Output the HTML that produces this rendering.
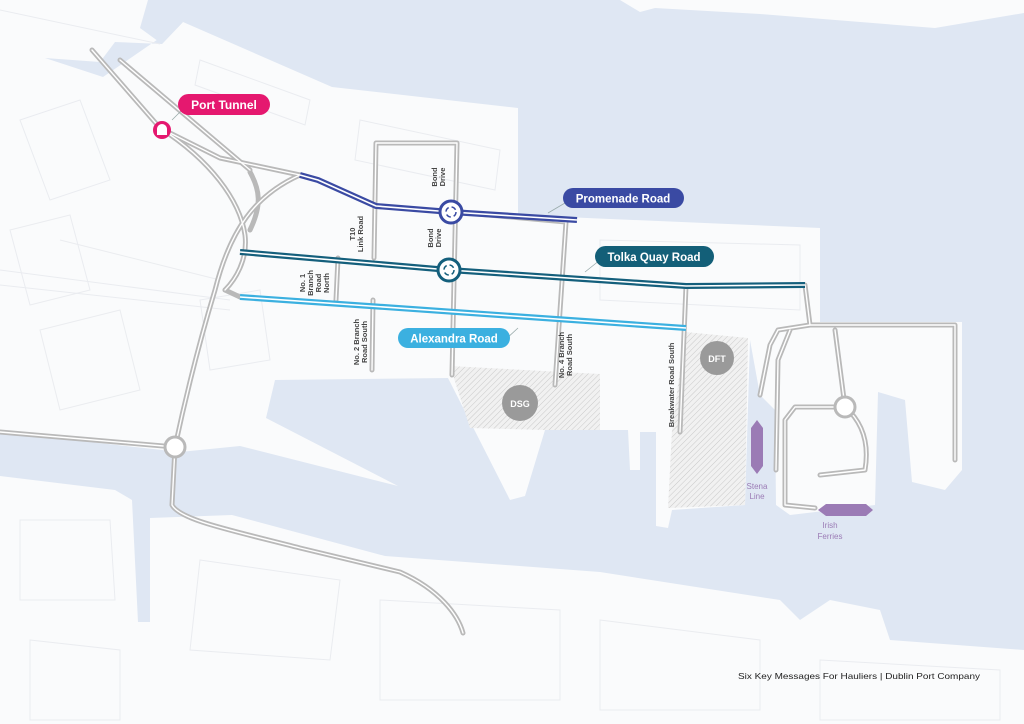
<!DOCTYPE html>
<html><head><meta charset="utf-8"><style>
html,body{margin:0;padding:0;background:#fff;}
svg{display:block;}
text{font-family:"Liberation Sans",sans-serif;}
</style></head><body>
<svg width="1024" height="724" viewBox="0 0 1024 724" xmlns="http://www.w3.org/2000/svg">
<defs>
<pattern id="hatch" width="4" height="4" patternUnits="userSpaceOnUse" patternTransform="rotate(45)">
<rect width="4" height="4" fill="#f1f1f1"/><line x1="0" y1="0" x2="0" y2="4" stroke="#c9c9c9" stroke-width="1"/>
</pattern>
</defs>
<rect x="0" y="0" width="1024" height="724" fill="#dfe7f3"/>
<!-- north land west part (left of peninsula) -->
<path fill="#fafbfc" d="M0,0 L148,0 L183,22 L332,87 L518,108 L518,215 L820,228 L820,322 L962,322 L962,470 L945,490 L912,482 L905,400 L878,392 L875,505 L790,515 L776,505 L775,410 L760,395 L750,340 L745,505 L672,510 L668,528 L656,526 L656,432 L640,432 L640,470 L630,470 L628,430 L545,430 L525,496 L510,500 L448,378 L275,380 L266,418 L398,486 L240,446 L180,452 L0,432 Z"/>
<!-- NW water channel -->
<path fill="#dfe7f3" d="M45,58 L100,62 L115,42 L162,44 L183,22 L103,77 Z"/>
<path fill="#dfe7f3" d="M148,0 L165,0 L183,22 L162,44 L140,28 Z"/>
<!-- top right land strip -->
<path fill="#fafbfc" d="M620,0 L1024,0 L1024,13 L935,28 L760,14 L655,8 L640,12 Z"/>
<!-- south land -->
<path fill="#fafbfc" d="M0,476 L115,490 L132,500 L138,622 L150,622 L150,518 L232,515 L385,556 L600,572 L780,600 L800,620 L830,600 L880,610 L890,640 L1024,650 L1024,724 L0,724 Z"/>
<!-- faint building lines -->
<g stroke="#eaecf0" stroke-width="1" fill="none">
<path d="M20,120 L80,100 L110,180 L50,200Z M10,230 L70,215 L90,290 L30,305Z M40,330 L120,310 L140,390 L60,410Z M200,300 L260,290 L270,360 L210,370Z"/>
<path d="M200,60 L310,100 L305,125 L195,85Z M360,120 L500,150 L495,190 L355,160Z M600,240 L800,245 L800,310 L600,300Z"/>
<path d="M20,520 L110,520 L115,600 L20,600Z M200,560 L340,580 L330,660 L190,650Z M380,600 L560,610 L560,700 L380,700Z M600,620 L760,640 L760,710 L600,710Z M820,660 L1000,670 L1000,720 L820,720Z M30,640 L120,650 L120,720 L30,720Z"/>
<path d="M0,270 L230,300 M0,285 L230,310 M60,240 L220,280 M0,10 L160,44"/>
</g>
<!-- hatched areas -->
<polygon fill="url(#hatch)" points="450,366 600,374 600,430 545,430 470,428"/>
<polygon fill="url(#hatch)" points="685,332 748,338 745,505 668,508 672,430"/>
<!-- gray roads -->
<g fill="none" stroke-linecap="round" stroke-linejoin="round">
<g stroke="#b9b9b9" stroke-width="5">
<path d="M92,50 L160,128 L220,158 L300,175"/>
<path d="M300,175 C255,195 230,230 215,290 C200,340 185,400 175,447 L172,505 C180,520 230,530 300,548 L400,572 C440,590 458,615 463,633"/>
<path d="M160,128 C210,160 240,200 245,235 C248,260 235,280 225,290"/>
<path d="M0,432 L175,447"/>
<path d="M225,290 L240,297"/>
<path d="M374,258 L376,143 L457,143 L452,375"/>
<path d="M373,300 L372,370"/>
<path d="M338,258 L336,300"/>
<path d="M456,212 L566,222 L555,385"/>
<path d="M686,286 L680,432"/>
<path d="M805,285 L810,325 L955,325 L955,460"/>
<path d="M810,325 L778,330 L770,345 L760,395"/>
<path d="M790,330 L778,360 L776,470"/>
<path d="M835,330 L845,407 C860,420 870,440 865,470 L820,475"/>
<path d="M845,407 L795,407 L785,420 L785,505 L815,508"/>
<path d="M120,60 L250,170"/>
<path d="M250,172 C260,190 262,205 250,230"/>
</g>
<g stroke="#fff" stroke-width="1.4">
<path d="M92,50 L160,128 L220,158 L300,175"/>
<path d="M300,175 C255,195 230,230 215,290 C200,340 185,400 175,447 L172,505 C180,520 230,530 300,548 L400,572 C440,590 458,615 463,633"/>
<path d="M160,128 C210,160 240,200 245,235 C248,260 235,280 225,290"/>
<path d="M0,432 L175,447"/>
<path d="M374,258 L376,143 L457,143 L452,375"/>
<path d="M373,300 L372,370"/>
<path d="M338,258 L336,300"/>
<path d="M456,212 L566,222 L555,385"/>
<path d="M686,286 L680,432"/>
<path d="M805,285 L810,325 L955,325 L955,460"/>
<path d="M810,325 L778,330 L770,345 L760,395"/>
<path d="M790,330 L778,360 L776,470"/>
<path d="M835,330 L845,407 C860,420 870,440 865,470 L820,475"/>
<path d="M845,407 L795,407 L785,420 L785,505 L815,508"/>
<path d="M120,60 L250,170"/>
</g>
</g>
<!-- gray roundabouts -->
<circle cx="175" cy="447" r="10" fill="#fff" stroke="#b9b9b9" stroke-width="3"/>
<circle cx="845" cy="407" r="10" fill="#fff" stroke="#b9b9b9" stroke-width="3"/>
<!-- coloured roads -->
<g fill="none" stroke-linejoin="round">
<path d="M300,175 L318,180 L376,206 L451,212 L577,220" stroke="#3a4aa3" stroke-width="6"/>
<path d="M300,175 L318,180 L376,206 L451,212 L577,220" stroke="#fff" stroke-width="1.6"/>
<path d="M240,252 L449,270 L686,286 L805,285" stroke="#145f7c" stroke-width="6"/>
<path d="M240,252 L449,270 L686,286 L805,285" stroke="#fff" stroke-width="1.6"/>
<path d="M240,297 L686,328" stroke="#3bb0e0" stroke-width="6"/>
<path d="M240,297 L686,328" stroke="#fff" stroke-width="1.6"/>
</g>
<!-- coloured roundabouts -->
<circle cx="451" cy="212" r="11" fill="#fff" stroke="#3a4aa3" stroke-width="3"/>
<circle cx="451" cy="212" r="5" fill="none" stroke="#3a4aa3" stroke-width="1.5" stroke-dasharray="5 3"/>
<circle cx="449" cy="270" r="11" fill="#fff" stroke="#145f7c" stroke-width="3"/>
<circle cx="449" cy="270" r="5" fill="none" stroke="#145f7c" stroke-width="1.5" stroke-dasharray="5 3"/>
<!-- leader lines -->
<g stroke="#9aa" stroke-width="0.8">
<line x1="548" y1="213" x2="565" y2="203"/>
<line x1="585" y1="272" x2="600" y2="260"/>
<line x1="505" y1="340" x2="518" y2="328"/>
<line x1="172" y1="120" x2="184" y2="108"/>
</g>
<!-- port tunnel icon -->
<circle cx="162" cy="130" r="9" fill="#e5186f"/>
<path d="M157,135 L157,129 A5,5 0 0 1 167,129 L167,135Z" fill="#fff"/>
<!-- pills -->
<rect x="178" y="94" width="92" height="21" rx="10.5" fill="#e5186f"/>
<text x="224" y="109" fill="#fff" font-size="12" font-weight="bold" text-anchor="middle">Port Tunnel</text>
<rect x="563" y="188" width="121" height="20" rx="10" fill="#3a4aa3"/>
<text x="623" y="202.5" fill="#fff" font-size="11.5" font-weight="bold" text-anchor="middle">Promenade Road</text>
<rect x="595" y="246" width="119" height="21" rx="10.5" fill="#135f78"/>
<text x="654" y="261" fill="#fff" font-size="11.5" font-weight="bold" text-anchor="middle">Tolka Quay Road</text>
<rect x="398" y="328" width="112" height="20" rx="10" fill="#3bb0e0"/>
<text x="454" y="342.5" fill="#fff" font-size="11.5" font-weight="bold" text-anchor="middle">Alexandra Road</text>
<!-- DSG DFT -->
<circle cx="520" cy="403" r="18" fill="#9a9a9a"/>
<text x="520" y="407" fill="#fff" font-size="9" font-weight="bold" text-anchor="middle">DSG</text>
<circle cx="717" cy="358" r="17" fill="#9a9a9a"/>
<text x="717" y="362" fill="#fff" font-size="9" font-weight="bold" text-anchor="middle">DFT</text>
<!-- ships -->
<polygon points="757,420 763,428 763,466 757,474 751,466 751,428" fill="#9b7bb5"/>
<polygon points="818,510 826,504 866,504 873,510 866,516 826,516" fill="#9b7bb5"/>
<text x="757" y="489" fill="#9b7bb5" font-size="8" text-anchor="middle">Stena</text>
<text x="757" y="499" fill="#9b7bb5" font-size="8" text-anchor="middle">Line</text>
<text x="830" y="528" fill="#9b7bb5" font-size="8" text-anchor="middle">Irish</text>
<text x="830" y="539" fill="#9b7bb5" font-size="8" text-anchor="middle">Ferries</text>
<!-- vertical labels -->
<g fill="#444" font-size="7.5" font-weight="bold" text-anchor="middle">
<text transform="translate(437,177) rotate(-90)"><tspan x="0" y="0">Bond</tspan><tspan x="0" y="8">Drive</tspan></text>
<text transform="translate(433,238) rotate(-90)"><tspan x="0" y="0">Bond</tspan><tspan x="0" y="8">Drive</tspan></text>
<text transform="translate(355,234) rotate(-90)"><tspan x="0" y="0">T10</tspan><tspan x="0" y="8">Link Road</tspan></text>
<text transform="translate(305,283) rotate(-90)"><tspan x="0" y="0">No. 1</tspan><tspan x="0" y="8">Branch</tspan><tspan x="0" y="16">Road</tspan><tspan x="0" y="24">North</tspan></text>
<text transform="translate(359,342) rotate(-90)"><tspan x="0" y="0">No. 2 Branch</tspan><tspan x="0" y="8">Road South</tspan></text>
<text transform="translate(564,355) rotate(-90)"><tspan x="0" y="0">No. 4 Branch</tspan><tspan x="0" y="8">Road South</tspan></text>
<text transform="translate(674,385) rotate(-90)"><tspan x="0" y="0">Breakwater Road South</tspan></text>
</g>
<!-- footer -->
<text x="738" y="679" font-size="8.5" fill="#222" textLength="242" lengthAdjust="spacingAndGlyphs">Six Key Messages For Hauliers   |   Dublin Port Company</text>
</svg>
</body></html>
